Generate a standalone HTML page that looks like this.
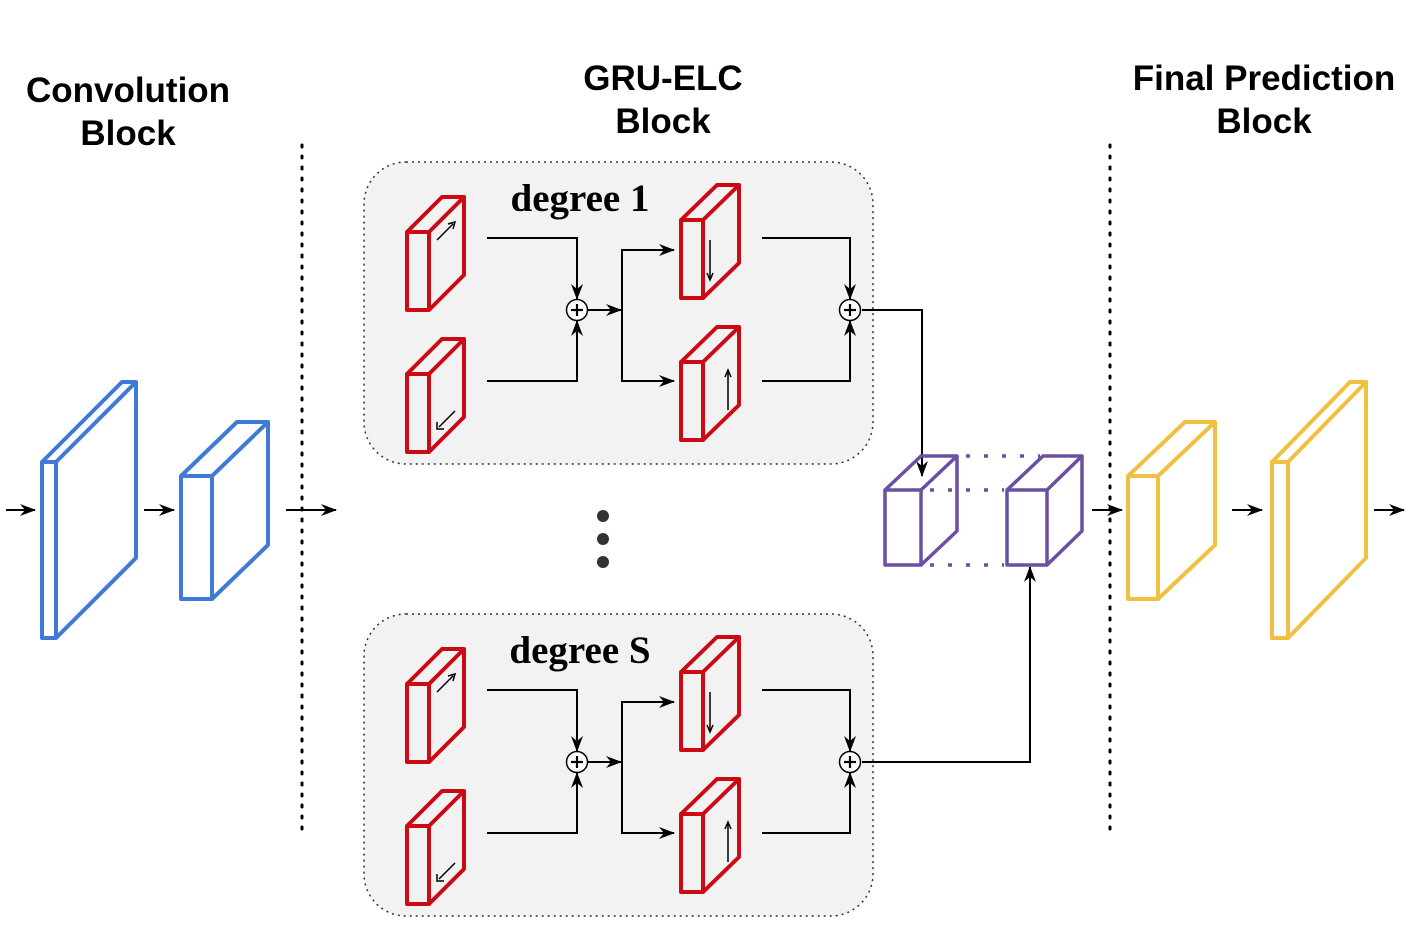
<!DOCTYPE html>
<html><head><meta charset="utf-8"><style>html,body{margin:0;padding:0;background:#fff}svg{display:block}</style></head>
<body>
<svg width="1410" height="928" viewBox="0 0 1410 928" xmlns="http://www.w3.org/2000/svg">
<defs>
<marker id="ah" markerWidth="16" markerHeight="12" refX="15" refY="6" orient="auto" markerUnits="userSpaceOnUse">
<path d="M0,0 L16,6 L0,12 L5,6 Z" fill="#000"/></marker>
</defs>
<g font-family="Liberation Sans, sans-serif" font-weight="bold" font-size="35" text-anchor="middle" fill="#000">
<text x="128" y="102">Convolution</text><text x="128" y="145">Block</text>
<text x="663" y="90">GRU-ELC</text><text x="663" y="133">Block</text>
<text x="1264" y="90">Final Prediction</text><text x="1264" y="133">Block</text>
</g>
<g stroke="#000" stroke-width="3" stroke-dasharray="2 9" stroke-linecap="round">
<line x1="302" y1="145" x2="302" y2="835"/><line x1="1110" y1="145" x2="1110" y2="835"/>
</g>
<g stroke="#000" stroke-width="2" fill="none" marker-end="url(#ah)">
<line x1="6" y1="510" x2="35" y2="510"/><line x1="144" y1="510" x2="174" y2="510"/>
<line x1="286" y1="510" x2="336" y2="510"/><line x1="1092" y1="510" x2="1122" y2="510"/>
<line x1="1232" y1="510" x2="1262" y2="510"/><line x1="1374" y1="510" x2="1404" y2="510"/>
</g>
<g fill="none" stroke="#3f7bd6" stroke-width="4" stroke-linejoin="round">
<rect x="42" y="462" width="14" height="176"/><path d="M42,462 L122,382 L136,382 L56,462 M136,382 L136,558 L56,638"/>
<rect x="181" y="476" width="31" height="123"/><path d="M181,476 L237,422 L268,422 L212,476 M268,422 L268,545 L212,599"/>
</g>
<g fill="none" stroke="#f0c040" stroke-width="4" stroke-linejoin="round">
<rect x="1128" y="476" width="30" height="123"/><path d="M1128,476 L1185,422 L1215,422 L1158,476 M1215,422 L1215,545 L1158,599"/>
<rect x="1272" y="462" width="16" height="176"/><path d="M1272,462 L1350,382 L1366,382 L1288,462 M1366,382 L1366,558 L1288,638"/>
</g>
<g id="deg">
<rect x="364" y="162" width="509" height="302" rx="42" fill="#f2f2f2" stroke="#333" stroke-width="1.5" stroke-dasharray="2 4"/>
<g fill="none" stroke="#cc0a14" stroke-width="4" stroke-linejoin="round">
<rect x="407" y="232" width="22" height="78"/><path d="M407,232 L442,197 L464,197 L429,232 M464,197 L464,275 L429,310"/>
<rect x="407" y="374" width="22" height="78"/><path d="M407,374 L442,339 L464,339 L429,374 M464,339 L464,417 L429,452"/>
<rect x="681" y="220" width="22" height="78"/><path d="M681,220 L717,185 L739,185 L703,220 M739,185 L739,263 L703,298"/>
<rect x="681" y="362" width="22" height="78"/><path d="M681,362 L717,327 L739,327 L703,362 M739,327 L739,405 L703,440"/>
</g>
<g stroke="#000" stroke-width="1.5" fill="none">
<line x1="437" y1="240" x2="453" y2="224"/><path d="M448,224 L455,222 L453,229" />
<line x1="455" y1="411" x2="439" y2="427"/><path d="M437,422 L437,429 L444,429"/>
<line x1="710" y1="240" x2="710" y2="278"/><path d="M707,273 L710,280 L713,273"/>
<line x1="728" y1="410" x2="728" y2="372"/><path d="M725,377 L728,370 L731,377"/>
</g>
<g stroke="#000" stroke-width="2" fill="none">
<path d="M487,238 L577,238 L577,299" marker-end="url(#ah)"/>
<path d="M487,381 L577,381 L577,321" marker-end="url(#ah)"/>
<path d="M588,310 L621,310" marker-end="url(#ah)"/>
<path d="M622,310 L622,250 L674,250" marker-end="url(#ah)"/>
<path d="M622,310 L622,381 L674,381" marker-end="url(#ah)"/>
<path d="M762,238 L850,238 L850,299" marker-end="url(#ah)"/>
<path d="M762,381 L850,381 L850,321" marker-end="url(#ah)"/>
</g>
<g stroke="#000" stroke-width="1.5" fill="#fff">
<circle cx="577" cy="310" r="10.5"/><circle cx="850" cy="310" r="10.5"/>
</g>
<g stroke="#000" stroke-width="2.2">
<line x1="571" y1="310" x2="583" y2="310"/><line x1="577" y1="304" x2="577" y2="316"/>
<line x1="844" y1="310" x2="856" y2="310"/><line x1="850" y1="304" x2="850" y2="316"/>
</g>
</g>
<use href="#deg" transform="translate(0,452)"/>
<text x="580" y="211" font-family="Liberation Serif, serif" font-weight="bold" font-size="39" text-anchor="middle">degree 1</text>
<text x="580" y="663" font-family="Liberation Serif, serif" font-weight="bold" font-size="39" text-anchor="middle">degree S</text>
<g fill="#333"><circle cx="603" cy="516" r="6"/><circle cx="603" cy="539" r="6"/><circle cx="603" cy="562" r="6"/></g>
<g stroke="#000" stroke-width="2" fill="none">
<path d="M862,310 L922,310 L922,476" marker-end="url(#ah)"/>
<path d="M862,762 L1030,762 L1030,567" marker-end="url(#ah)"/>
</g>
<g fill="none" stroke="#6a4fa3" stroke-width="3.5" stroke-linejoin="round">
<rect x="885" y="490" width="36" height="75"/><path d="M885,490 L921,456 L957,456 L921,490 M957,456 L957,531 L921,565"/>
<rect x="1007" y="490" width="40" height="75"/><path d="M1007,490 L1043,456 L1082,456 L1047,490 M1082,456 L1082,531 L1047,565"/>
</g>
<g stroke="#6a4fa3" stroke-width="3.5" stroke-dasharray="4 14">
<line x1="966" y1="456" x2="1040" y2="456"/><line x1="930" y1="490" x2="1004" y2="490"/><line x1="930" y1="565" x2="1004" y2="565"/>
</g>
</svg>
</body></html>
